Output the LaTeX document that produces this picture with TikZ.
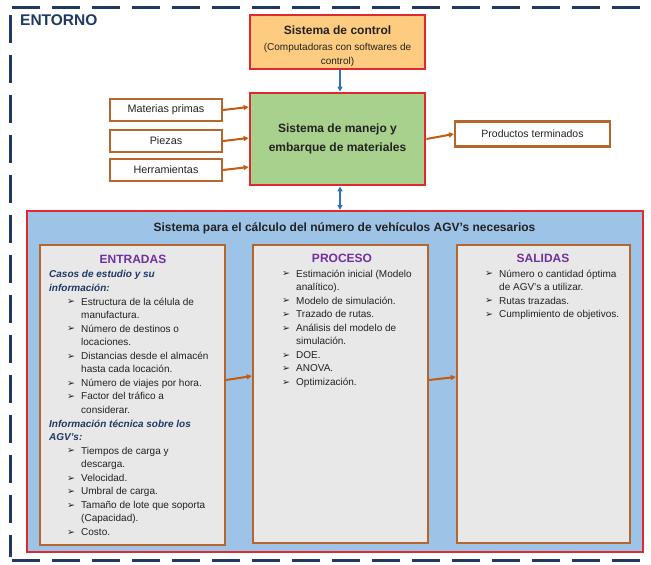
\documentclass[tikz,border=0pt]{standalone}
\usepackage{fontspec}
\setmainfont{Liberation Sans}
\newfontfamily\dejavu{DejaVu Sans}
\usetikzlibrary{arrows.meta,shadows,calc}
\definecolor{navy}{HTML}{1F3864}
\definecolor{redb}{HTML}{DE2A2E}
\definecolor{ctrlfill}{HTML}{FDCC80}
\definecolor{greenfill}{HTML}{A9D18E}
\definecolor{brownb}{HTML}{B5652E}
\definecolor{bluefill}{HTML}{9DC3E6}
\definecolor{grayfill}{HTML}{E8E8E8}
\definecolor{purp}{HTML}{7030A0}
\definecolor{hdblue}{HTML}{203864}
\definecolor{arrowor}{HTML}{C55A11}
\definecolor{arrowbl}{HTML}{2E75B6}
\definecolor{txt}{HTML}{222222}
\newcommand\blt{\makebox[14pt][l]{\raisebox{0.2pt}{\dejavu\fontsize{9.5}{9.5}\selectfont ➢}}}
\newcommand\hd[1]{\textcolor{hdblue}{\textbf{\textit{#1}}}}
\newcommand\bi{\hspace*{18pt}\blt}
\newcommand\ci{\hspace*{32pt}}
\newcommand\bp{\blt}
\newcommand\cp{\hspace*{14pt}}
\begin{document}
\begin{tikzpicture}[x=1pt,y=-1pt,
  redbox/.style={draw=redb, line width=2.8pt, inner sep=0pt},
  smallbox/.style={draw=brownb, fill=white, line width=2.2pt, minimum width=112pt, minimum height=22pt, inner sep=0pt, font=\fontsize{10.8}{12}\selectfont, text=txt},
  colbox/.style={draw=brownb, fill=grayfill, line width=2.4pt, inner sep=0pt,
     drop shadow={shadow xshift=1.2pt, shadow yshift=-1.2pt, fill=black!60, opacity=0.5}},
  listtxt/.style={anchor=north west, inner sep=0pt, align=left, text=txt, font=\fontsize{10}{13.55}\selectfont},
  coltitle/.style={inner sep=0pt, text=purp, font=\fontsize{12}{14}\selectfont\bfseries},
  oarrow/.style={draw=arrowor, line width=2pt, -{Triangle[length=5pt,width=5pt]}},
  barrow/.style={draw=arrowbl, line width=2pt, -{Triangle[length=5pt,width=5pt]}},
  envline/.style={draw=navy, line width=3pt, dash pattern=on 28pt off 12pt}
]
\useasboundingbox (0,0) rectangle (651,565);
\fill[white] (0,0) rectangle (651,565);

% environment frame
\draw[envline] (12,7) -- (651,7);
\draw[envline] (10,15) -- (10,557);
\draw[envline] (12,560) -- (651,560);
\node[anchor=west, inner sep=0pt, text=navy, font=\fontsize{15.5}{17}\selectfont\bfseries] (entorno) at (20,20.5) {ENTORNO};

% top boxes
\node[redbox, fill=ctrlfill, minimum width=175pt, minimum height=54pt, align=center, text=txt, font=\fontsize{10}{14.5}\selectfont] (control) at (337.5,42)
  {\rule{0pt}{17pt}{\fontsize{12}{14}\selectfont\bfseries Sistema de control}\\[1.5pt]
   (Computadoras con softwares de\\
   control)};
\node[redbox, fill=greenfill, minimum width=175pt, minimum height=92pt, align=center, text=txt, font=\fontsize{12}{19.5}\selectfont\bfseries] (main) at (337.5,139)
  {Sistema de manejo y\\embarque de materiales};

\node[smallbox] (mat) at (166,110) {Materias primas};
\node[smallbox] (pie) at (166,141) {Piezas};
\node[smallbox] (her) at (166,170) {Herramientas};
\node[smallbox, minimum width=155pt, minimum height=25pt, font=\fontsize{10.5}{12}\selectfont] (prod) at (532.5,134) {Productos terminados};

\draw[oarrow] (mat.east) -- ($(mat.east -| main.west)+(0,-3)$);
\draw[oarrow] (pie.east) -- ($(pie.east -| main.west)+(0,-3)$);
\draw[oarrow] (her.east) -- ($(her.east -| main.west)+(0,-3)$);
\draw[oarrow] (main.east) -- (prod.west);

% big box
\node[draw=redb, fill=bluefill, line width=2.2pt, minimum width=616pt, minimum height=341pt, inner sep=0pt] (big) at (335,381.5) {};
\node[inner sep=0pt, text=txt, font=\fontsize{12}{14}\selectfont\bfseries] (bigtitle) at (344.5,228)
  {Sistema para el cálculo del número de vehículos AGV's necesarios};

\draw[barrow] ($(control.south)+(2.5,0)$) -- ($(main.north)+(2.5,0)$);
\draw[barrow, {Triangle[length=5pt,width=5pt]}-{Triangle[length=5pt,width=5pt]}] ($(main.south)+(2.5,0)$) -- ($(big.north)+(5,0)$);

% columns
\node[colbox, minimum width=185pt, minimum height=300pt] (ent) at (132.5,395) {};
\node[colbox, minimum width=175pt, minimum height=298pt] (pro) at (340.5,394) {};
\node[colbox, minimum width=173pt, minimum height=298pt] (sal) at (543.5,394) {};

\draw[oarrow] ($(ent.east)+(0,-15)$) -- ($(pro.west)+(0,-18)$);
\draw[oarrow] ($(pro.east)+(0,-14)$) -- ($(sal.west)+(0,-17)$);

\node[coltitle] (entt) at (133,259) {ENTRADAS};
\node[coltitle] (prot) at (342,258) {PROCESO};
\node[coltitle] (salt) at (543,258) {SALIDAS};

\node[listtxt] (entl) at (49,270.5) {%
\hd{Casos de estudio y su}\\
\hd{información:}\\
\bi Estructura de la célula de\\
\ci manufactura.\\
\bi Número de destinos o\\
\ci locaciones.\\
\bi Distancias desde el almacén\\
\ci hasta cada locación.\\
\bi Número de viajes por hora.\\
\bi Factor del tráfico a\\
\ci considerar.\\
\hd{Información técnica sobre los}\\
\hd{AGV's:}\\
\bi Tiempos de carga y\\
\ci descarga.\\
\bi Velocidad.\\
\bi Umbral de carga.\\
\bi Tamaño de lote que soporta\\
\ci (Capacidad).\\
\bi Costo.};

\node[listtxt] (prol) at (282,269.5) {%
\bp Estimación inicial (Modelo\\
\cp analítico).\\
\bp Modelo de simulación.\\
\bp Trazado de rutas.\\
\bp Análisis del modelo de\\
\cp simulación.\\
\bp DOE.\\
\bp ANOVA.\\
\bp Optimización.};

\node[listtxt] (sall) at (485,269.5) {%
\bp Número o cantidad óptima\\
\cp de AGV's a utilizar.\\
\bp Rutas trazadas.\\
\bp Cumplimiento de objetivos.};
\end{tikzpicture}
\end{document}
